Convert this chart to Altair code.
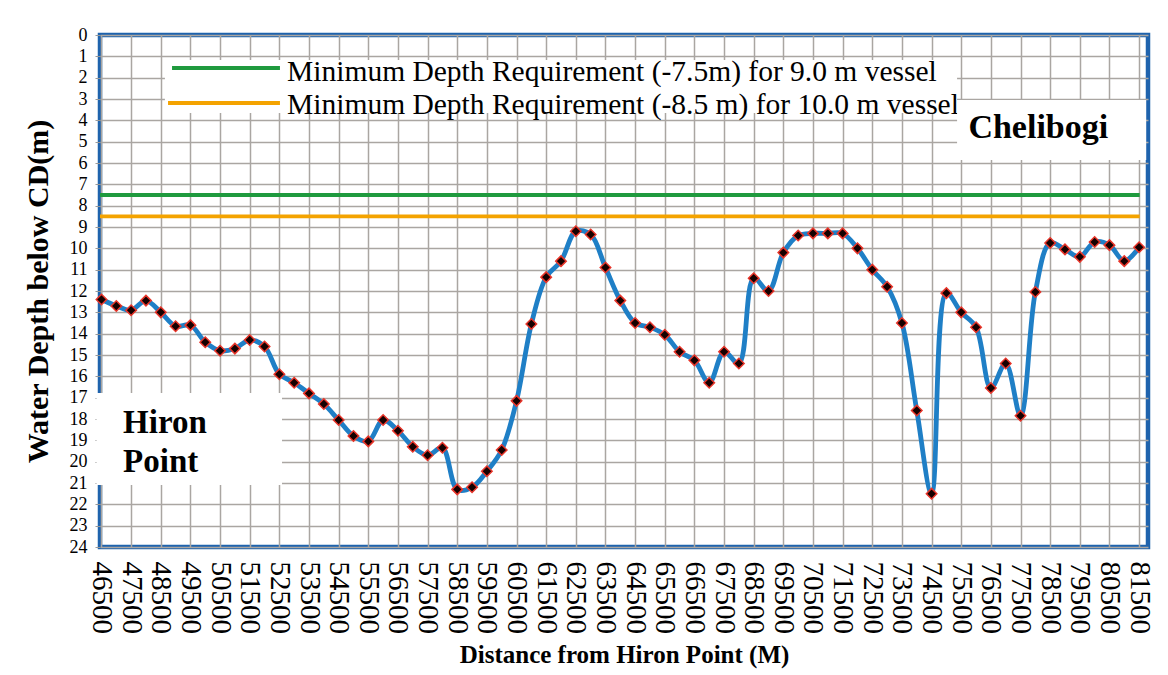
import altair as alt
import pandas as pd

# ---- data ----
distance = [46500, 47000, 47500, 48000, 48500, 49000, 49500, 50000, 50500, 51000,
            51500, 52000, 52500, 53000, 53500, 54000, 54500, 55000, 55500, 56000,
            56500, 57000, 57500, 58000, 58500, 59000, 59500, 60000, 60500, 61000,
            61500, 62000, 62500, 63000, 63500, 64000, 64500, 65000, 65500, 66000,
            66500, 67000, 67500, 68000, 68500, 69000, 69500, 70000, 70500, 71000,
            71500, 72000, 72500, 73000, 73500, 74000, 74500, 75000, 75500, 76000,
            76500, 77000, 77500, 78000, 78500, 79000, 79500, 80000, 80500, 81000,
            81500]
depth = [12.4, 12.7, 12.9, 12.45, 13.0, 13.65, 13.6, 14.4, 14.8, 14.7,
         14.3, 14.6, 15.9, 16.3, 16.8, 17.3, 18.05, 18.8, 19.05, 18.05,
         18.55, 19.3, 19.7, 19.35, 21.3, 21.2, 20.45, 19.45, 17.15, 13.55,
         11.35, 10.6, 9.2, 9.35, 10.9, 12.45, 13.5, 13.7, 14.05, 14.85,
         15.25, 16.3, 14.85, 15.4, 11.4, 12.0, 10.2, 9.4, 9.3, 9.3,
         9.3, 10.0, 11.0, 11.8, 13.5, 17.6, 21.5, 12.1, 13.0, 13.7,
         16.55, 15.4, 17.85, 12.05, 9.75, 10.05, 10.4, 9.7, 9.85, 10.6,
         9.95]

req_depth = [7.5, 8.5]
req_start = [46450, 46450]
req_end = [81520, 81520]
req_color = ["#1f9a3e", "#f4a300"]
req_label = ["Minimum Depth Requirement (-7.5m) for 9.0 m vessel",
             "Minimum Depth Requirement (-8.5 m) for 10.0 m vessel"]

x_ticks = [46500, 47500, 48500, 49500, 50500, 51500, 52500, 53500, 54500, 55500,
           56500, 57500, 58500, 59500, 60500, 61500, 62500, 63500, 64500, 65500,
           66500, 67500, 68500, 69500, 70500, 71500, 72500, 73500, 74500, 75500,
           76500, 77500, 78500, 79500, 80500, 81500]
y_ticks = [0, 1, 2, 3, 4, 5, 6, 7, 8, 9, 10, 11, 12, 13, 14, 15, 16, 17, 18, 19,
           20, 21, 22, 23, 24]

# annotation placements (in data units)
legend_box = {"x": 48640, "x2": 75360, "y": 1.17, "y2": 3.66}
legend_sample_x = [48880, 48745]
legend_sample_x2 = [52520, 52520]
legend_sample_y = [1.55, 3.19]
legend_text_x = [52760, 52760]
legend_text_y = [1.73, 3.28]

cheli_box = {"x": 75360, "x2": 81740, "y": 3.05, "y2": 5.86}
cheli_text = {"x": 78100, "y": 4.36, "t": "Chelibogi"}
hiron_box = {"x": 46330, "x2": 52590, "y": 16.78, "y2": 21.09}
hiron_text_x = [47230, 47230]
hiron_text_y = [18.19, 20.02]
hiron_text = ["Hiron", "Point"]

SERIF = "Liberation Serif"
XDOM = [46450, 81800]
YDOM = [0, 24]

XSCALE = alt.Scale(domain=XDOM, nice=False, zero=False)
YSCALE = alt.Scale(domain=YDOM, nice=False, zero=False, reverse=True)

x_axis = alt.Axis(values=x_ticks, format="d", labelAngle=90, labelFont=SERIF,
                  labelFontSize=29, labelColor="black", labelPadding=14,
                  ticks=False, domain=False, grid=True, gridColor="#aaa6a2",
                  gridWidth=1.5, title="Distance from Hiron Point  (M)",
                  titleFont=SERIF, titleFontSize=25, titleFontWeight="bold",
                  titleColor="black", titlePadding=9, labelOverlap=False)
y_axis = alt.Axis(values=y_ticks, format="d", labelFont=SERIF, labelFontSize=18,
                  labelColor="black", labelPadding=8, tickSize=5, tickColor="#999999",
                  tickWidth=1, domain=False, grid=True, gridColor="#aaa6a2",
                  gridWidth=1.5, title="Water Depth below CD(m)", titleFont=SERIF,
                  titleFontSize=30, titleFontWeight="bold", titleColor="black",
                  titlePadding=16, labelOverlap=False)


def xs(field):
    return alt.X(field, type="quantitative", scale=XSCALE, axis=x_axis)


def ys(field):
    return alt.Y(field, type="quantitative", scale=YSCALE, axis=y_axis)


df = pd.DataFrame({"distance": distance, "depth": depth})
req_df = pd.DataFrame({"d": req_depth, "s": req_start, "e": req_end,
                       "c": req_color, "lab": req_label,
                       "lx": legend_sample_x, "lx2": legend_sample_x2,
                       "ly": legend_sample_y, "tx": legend_text_x, "ty": legend_text_y})

base = alt.Chart(df)

line = base.mark_line(color="#1f7fc6", strokeWidth=4.8, interpolate="catmull-rom").encode(
    x=xs("distance"), y=ys("depth"))

pts = base.mark_point(shape="diamond", filled=True, fill="#150000", stroke="#e8352a",
                      strokeWidth=1.5, size=110, opacity=1).encode(
    x=xs("distance"), y=ys("depth"))

req_rules = alt.Chart(req_df).mark_rule(strokeWidth=3.8).encode(
    x=xs("s"), x2="e", y=ys("d"), color=alt.Color("c:N", scale=None))

leg_bg = alt.Chart(pd.DataFrame([legend_box])).mark_rect(fill="white").encode(
    x=xs("x"), x2="x2", y=ys("y"), y2="y2")
leg_lines = alt.Chart(req_df).mark_rule(strokeWidth=4).encode(
    x=xs("lx"), x2="lx2", y=ys("ly"), color=alt.Color("c:N", scale=None))
leg_text = alt.Chart(req_df).mark_text(align="left", baseline="middle", font=SERIF,
                                        fontSize=29.5, color="black").encode(
    x=xs("tx"), y=ys("ty"), text="lab:N")

cheli_bg = alt.Chart(pd.DataFrame([cheli_box])).mark_rect(fill="white").encode(
    x=xs("x"), x2="x2", y=ys("y"), y2="y2")
cheli_lab = alt.Chart(pd.DataFrame([cheli_text])).mark_text(
    align="center", baseline="middle", font=SERIF, fontSize=34, fontWeight="bold",
    color="black").encode(x=xs("x"), y=ys("y"), text="t:N")

hiron_bg = alt.Chart(pd.DataFrame([hiron_box])).mark_rect(fill="white").encode(
    x=xs("x"), x2="x2", y=ys("y"), y2="y2")
hiron_lab = alt.Chart(pd.DataFrame({"x": hiron_text_x, "y": hiron_text_y, "t": hiron_text})).mark_text(
    align="left", baseline="middle", font=SERIF, fontSize=33, fontWeight="bold",
    color="black").encode(x=xs("x"), y=ys("y"), text="t:N")

chart = alt.layer(line, req_rules, pts, leg_bg, leg_lines, leg_text,
                  cheli_bg, cheli_lab, hiron_bg, hiron_lab).properties(
    width=1048, height=512,
    autosize=alt.AutoSizeParams(type="none"),
    padding={"left": 92, "top": 27, "right": 12, "bottom": 125},
    background="white",
).configure_view(stroke="#1f63ad", strokeWidth=4.5)

chart.save("out.html", embed_options={"renderer": "svg", "actions": False})
